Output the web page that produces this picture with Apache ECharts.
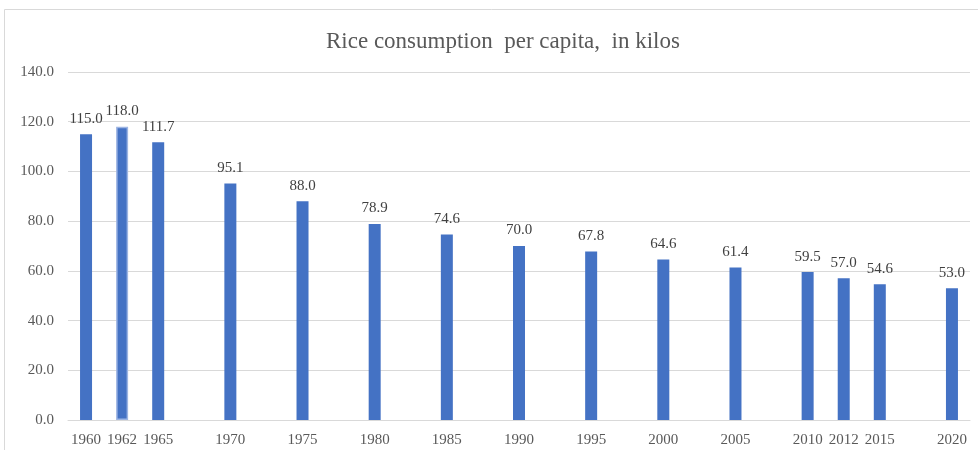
<!DOCTYPE html>
<html><head><meta charset="utf-8">
<script src="https://cdn.jsdelivr.net/npm/echarts@6/dist/echarts.min.js"></script>
<style>html,body{margin:0;padding:0;background:#fff}#c{width:978px;height:450px}</style>
</head><body><div id="c"></div>
<script>
const categories = ['1960','1962','1965','','1970','','1975','','1980','','1985','','1990','','1995','','2000','','2005','','2010','2012','2015','','2020'];
const values = [115.0,118.0,111.7,null,95.1,null,88.0,null,78.9,null,74.6,null,70.0,null,67.8,null,64.6,null,61.4,null,59.5,57.0,54.6,null,53.0];
const title = 'Rice consumption  per capita,  in kilos';

const chart = echarts.init(document.getElementById('c'));
const font = '"Liberation Serif", "Times New Roman", serif';
chart.setOption({
  animation: false,
  title: {text: title, left: 321, top: 25, textStyle: {fontFamily: font, fontSize: 23, fontWeight: 'normal', color: '#595959'}},
  graphic: [{type: 'rect', shape: {x: 4.5, y: 9.5, width: 990, height: 460}, style: {fill: 'none', stroke: '#d9d9d9', lineWidth: 1}, silent: true}],
  grid: {left: 68, right: 8, top: 72, bottom: 30},
  xAxis: {type: 'category', data: categories,
    axisLine: {lineStyle: {color: '#d9d9d9'}}, axisTick: {show: false},
    axisLabel: {interval: 0, fontFamily: font, fontSize: 15, color: '#595959', margin: 13}},
  yAxis: {type: 'value', min: 0, max: 140, interval: 20,
    axisLabel: {formatter: v => v.toFixed(1), fontFamily: font, fontSize: 15, color: '#595959', margin: 14},
    splitLine: {lineStyle: {color: '#d9d9d9'}}, axisLine: {show: false}, axisTick: {show: false}},
  series: [{type: 'bar', barWidth: 12,
    data: values.map((v, i) => v === null ? null : (categories[i] === '1962' ? {value: v, itemStyle: {borderColor: '#9db5e3', borderWidth: 1.5}} : v)),
    itemStyle: {color: '#4472C4'},
    label: {show: true, position: 'top', distance: 8, formatter: p => p.value.toFixed(1), fontFamily: font, fontSize: 15, color: '#404040'}}]
});
</script></body></html>
